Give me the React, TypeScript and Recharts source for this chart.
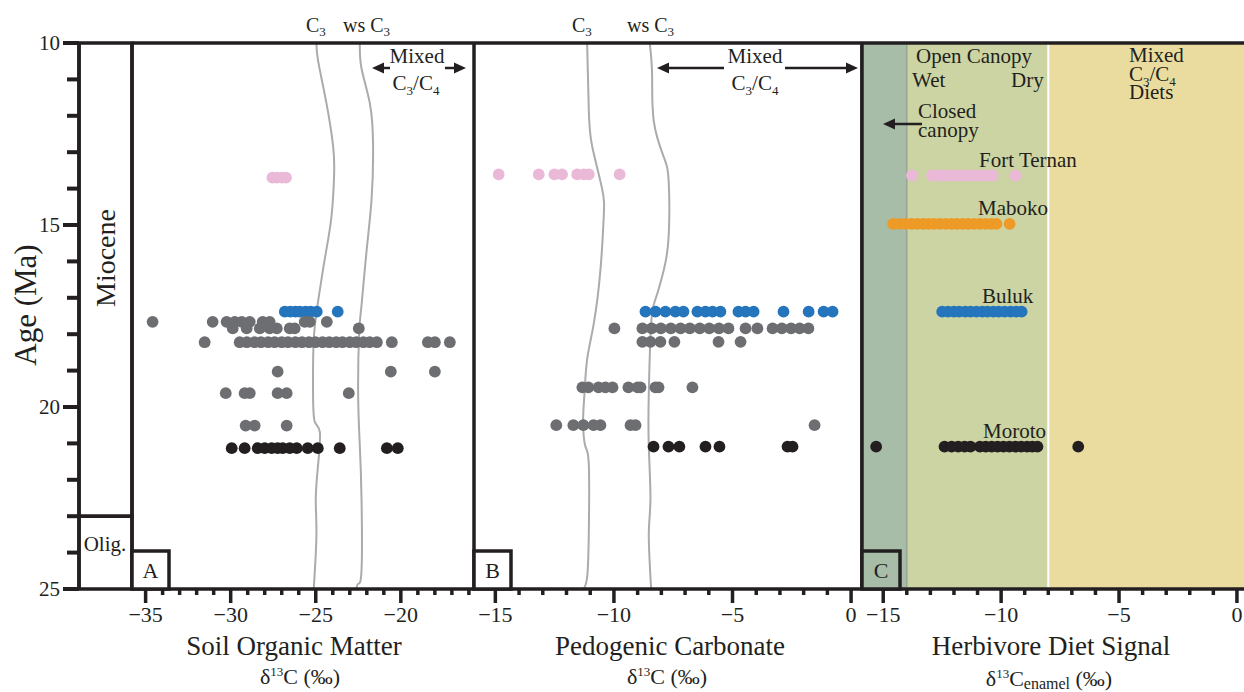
import React from 'react'
import {
  ComposedChart,
  Scatter,
  Line,
  XAxis,
  YAxis,
  ReferenceLine,
  ReferenceArea,
} from 'recharts'

const FONT = '"Liberation Serif", "Times New Roman", serif'
const INK = '#231f20'
const CURVE = '#a9abae'
const PINK = '#ebb9d8'
const BLUE = '#2475bc'
const GREY = '#6d6e71'
const BLACK = '#231f20'
const ORANGE = '#ee9a26'
const CLOSED = '#a8bda8'
const OPEN = '#cbd4a2'
const MIXED = '#eadc9f'

const TOP = 43
const CHART_H = 692
const AXIS_H = 103
const PAD = 12
const EDGE = 3.5

// age axis (Ma)
const ageTicks = [10, 11, 12, 13, 14, 15, 16, 17, 18, 19, 20, 21, 22, 23, 24, 25]
const epochAges = [10, 23, 25] // Miocene / Oligocene boundary

// x ticks
const somTicks = [-35, -34, -33, -32, -31, -30, -29, -28, -27, -26, -25, -24, -23, -22, -21, -20, -19, -18, -17, -16]
const pcTicks = [-15, -14, -13, -12, -11, -10, -9, -8, -7, -6, -5, -4, -3, -2, -1, 0]
const enTicks = [-15, -14, -13, -12, -11, -10, -9, -8, -7, -6, -5, -4, -3, -2, -1, 0]

// A: soil organic matter d13C
const somPink = [-27.55, -27.3, -27.0, -26.75]
const somBlue = [-26.82, -26.5, -26.2, -25.94, -25.6, -25.3, -24.94, -23.71]
const somGrey1 = [-34.59, -31.06, -30.24, -29.76, -29.35, -28.88, -28.12, -27.71, -25.65, -25.35, -24.35]
const somGrey2 = [-29.88, -29.06, -28.29, -27.71, -27.29, -26.53, -26.24, -22.47]
const somGrey3 = [-31.53, -29.47, -29.05, -28.6, -28.22, -27.8, -27.42, -27.0, -26.63, -26.2, -25.81, -25.4, -25.02, -24.6, -24.21, -23.8, -23.43, -23.0, -22.62, -22.2, -21.83, -21.41, -20.53, -18.41, -18.0, -17.12]
const somGrey4 = [-27.24, -20.59, -18.0]
const somGrey5 = [-30.29, -29.18, -28.88, -27.24, -26.71, -23.06]
const somGrey6 = [-29.12, -28.59, -26.71]
const somBlack = [-29.94, -29.18, -28.41, -28.0, -27.59, -27.24, -26.94, -26.53, -26.12, -25.47, -24.88, -23.59, -20.82, -20.18]
const somRowAges = [13.7, 17.38, 17.66, 17.84, 18.22, 19.03, 19.62, 20.51, 21.13]

const somC3X = [-24.96, -24.86, -24.37, -23.98, -23.92, -24.08, -24.47, -24.86, -25.12, -25.16, -25.06, -24.76, -24.86, -25.0, -24.96, -25.12]
const somC3Age = [10, 10.5, 11.66, 12.83, 13.6, 14.78, 15.93, 17.09, 18.16, 19.62, 20.4, 20.69, 21.57, 22.53, 23.5, 25]
const somWsX = [-22.41, -22.31, -21.82, -21.63, -21.72, -22.02, -22.31, -22.45, -22.51, -22.41, -22.31, -22.31, -22.51, -22.61]
const somWsAge = [10, 10.7, 11.66, 12.83, 14.29, 15.74, 17.2, 17.97, 19.62, 21.07, 22.53, 24.48, 24.86, 25]

// B: pedogenic carbonate d13C
const pcPink = [-14.86, -13.17, -12.51, -12.19, -11.55, -11.27, -11.06, -9.76]
const pcBlue = [-8.67, -8.25, -7.83, -7.41, -7.07, -6.48, -6.14, -5.84, -5.51, -4.75, -4.45, -4.11, -2.85, -1.79, -1.16, -0.78]
const pcGrey1 = [-9.98, -8.8, -8.41, -8.02, -7.6, -7.19, -6.8, -6.38, -5.98, -5.57, -5.17, -4.45, -3.95, -3.31, -2.92, -2.53, -2.17, -1.8]
const pcGrey2 = [-8.8, -8.46, -8.04, -7.45, -5.59, -4.66]
const pcGrey3 = [-11.33, -11.08, -10.65, -10.36, -10.06, -9.39, -9.0, -8.88, -8.25, -8.12, -6.69]
const pcGrey4 = [-12.43, -11.71, -11.29, -10.86, -10.57, -9.3, -9.09, -1.54]
const pcBlack = [-8.33, -7.7, -7.24, -6.14, -5.55, -2.68, -2.47]
const pcRowAges = [13.61, 17.38, 17.84, 18.21, 19.46, 20.5, 21.09]

const pcC3X = [-11.13, -11.06, -10.92, -10.5, -10.43, -10.57, -10.85, -11.13, -11.24, -11.3, -11.2, -11.06, -11.06, -11.13, -11.27]
const pcC3Age = [10, 11.84, 12.83, 14.0, 14.78, 16.24, 17.71, 18.69, 19.62, 20.41, 21.09, 21.57, 23.5, 24.68, 25]
const pcWsX = [-8.49, -8.39, -8.32, -7.9, -7.69, -7.69, -7.9, -8.25, -8.43, -8.53, -8.53, -8.46, -8.53, -8.43]
const pcWsAge = [10, 10.88, 12.15, 13.13, 13.82, 15.29, 16.24, 17.04, 17.71, 19.62, 21.09, 22.53, 23.5, 25]

// C: herbivore enamel d13C
const enPink = [-13.78, -12.93, -12.7, -12.45, -12.24, -12.0, -11.78, -11.55, -11.3, -11.1, -10.86, -10.62, -10.36, -9.39]
const enOrange = [-14.58, -14.3, -14.05, -13.8, -13.55, -13.3, -13.08, -12.85, -12.6, -12.35, -12.1, -11.88, -11.62, -11.4, -11.15, -10.9, -10.66, -10.42, -10.2, -9.64]
const enBlue = [-12.5, -12.25, -12.0, -11.78, -11.52, -11.3, -11.05, -10.8, -10.58, -10.33, -10.1, -9.85, -9.6, -9.36, -9.13]
const enBlack = [-15.3, -12.4, -12.1, -11.82, -11.55, -11.3, -10.9, -10.65, -10.4, -10.15, -9.9, -9.65, -9.4, -9.15, -8.9, -8.68, -8.46, -6.73]
const enRowAges = [13.64, 14.97, 17.38, 21.09]
const dietBounds = [-14, -8] // closed | open canopy | mixed C3/C4

const somDomain = [-35.8, -15.7]
const pcDomain = [-15.9, 0.46]
const enDomain = [-15.9, 0.3]

const row = (age: number, xs: number[]) => xs.map((x) => ({ x, y: age }))
const curve = (xs: number[], ages: number[]) => xs.map((x, i) => ({ x, y: ages[i] }))

const dot = (fill: string, r = 5.9) => (p: any) => <circle cx={p.cx} cy={p.cy} r={r} fill={fill} />

const minus = (v: number) => (v < 0 ? '\u2212' + Math.abs(v) : String(v))

const xTick = (props: any) => {
  const { x, y, payload } = props
  const major = payload.value % 5 === 0
  return (
    <g>
      <line x1={x} x2={x} y1={y} y2={y + (major ? 14 : 6)} stroke={INK} strokeWidth={3.5} />
      {major && (
        <text x={x} y={y + 33} textAnchor="middle" fontSize={22} fontFamily={FONT} fill={INK}>
          {minus(payload.value)}
        </text>
      )}
    </g>
  )
}

const yTick = (props: any) => {
  const { x, y, payload } = props
  const major = payload.value % 5 === 0
  return (
    <g>
      <line x1={x - (major ? 16 : 12)} x2={x} y1={y} y2={y} stroke={INK} strokeWidth={4} />
      {major && (
        <text x={x - 19} y={y + 7} textAnchor="end" fontSize={21} fontFamily={FONT} fill={INK}>
          {payload.value}
        </text>
      )}
    </g>
  )
}

function Panel({ left, width, domain, ticks, children }: any) {
  return (
    <div style={{ position: 'absolute', left: left - PAD, top: 0 }}>
      <ComposedChart
        width={width + 2 * PAD}
        height={CHART_H}
        margin={{ top: TOP, right: PAD, bottom: 0, left: PAD }}
      >
        <XAxis
          type="number"
          dataKey="x"
          domain={domain}
          ticks={ticks}
          interval={0}
          allowDataOverflow
          height={AXIS_H}
          tickSize={0}
          tickMargin={0}
          tickLine={false}
          tick={xTick}
          axisLine={{ stroke: INK, strokeWidth: EDGE }}
        />
        <YAxis type="number" dataKey="y" domain={[10, 25]} reversed hide allowDataOverflow />
        {children}
        <ReferenceLine y={10} stroke={INK} strokeWidth={EDGE} />
      </ComposedChart>
    </div>
  )
}

const sc = (key: string, data: any[], fill: string) => (
  <Scatter key={key} data={data} fill={fill} shape={dot(fill)} isAnimationActive={false} />
)

const ln = (key: string, data: any[]) => (
  <Line
    key={key}
    data={data}
    dataKey="y"
    type="natural"
    stroke={CURVE}
    strokeWidth={2}
    dot={false}
    activeDot={false}
    isAnimationActive={false}
  />
)

const T = (p: any) => <text fontFamily={FONT} fill={INK} {...p} />

function Arrow({ x1, x2, y }: { x1: number; x2: number; y: number }) {
  const d = x2 > x1 ? 1 : -1
  return (
    <g>
      <line x1={x1} x2={x2 - d * 8} y1={y} y2={y} stroke={INK} strokeWidth={2.5} />
      <polygon points={`${x2},${y} ${x2 - d * 12},${y - 5.5} ${x2 - d * 12},${y + 5.5}`} fill={INK} />
    </g>
  )
}

function C34({ x, y, anchor = 'middle' }: any) {
  return (
    <T x={x} y={y} fontSize={21} textAnchor={anchor}>
      C<tspan dy={5} fontSize={13}>3</tspan>
      <tspan dy={-5}>/C</tspan>
      <tspan dy={5} fontSize={13}>4</tspan>
    </T>
  )
}

function Delta({ x, y, enamel = false }: any) {
  return (
    <T x={x} y={y} fontSize={22} textAnchor="middle">
      δ<tspan dy={-8} fontSize={13}>13</tspan>
      <tspan dy={8}>C</tspan>
      {enamel && (
        <tspan dy={3} fontSize={16}>
          enamel
        </tspan>
      )}
      <tspan dy={enamel ? -3 : 0}> (‰)</tspan>
    </T>
  )
}

function Overlay() {
  return (
    <svg width={1244} height={692} style={{ position: 'absolute', left: 0, top: 0, pointerEvents: 'none' }}>
      <T x={36} y={305} fontSize={31} textAnchor="middle" transform="rotate(-90 36 305)">
        Age (Ma)
      </T>
      <T x={115} y={258} fontSize={28} textAnchor="middle" transform="rotate(-90 115 258)">
        Miocene
      </T>
      <T x={105} y={551} fontSize={21} textAnchor="middle">
        Olig.
      </T>

      {/* panel tags */}
      <rect x={132} y={551} width={37} height={38} fill="#fff" stroke={INK} strokeWidth={3.5} />
      <T x={150.5} y={578} fontSize={22} textAnchor="middle">A</T>
      <rect x={474} y={551} width={37} height={38} fill="#fff" stroke={INK} strokeWidth={3.5} />
      <T x={492.5} y={578} fontSize={22} textAnchor="middle">B</T>
      <rect x={862} y={551} width={38} height={38} fill={CLOSED} stroke={INK} strokeWidth={3.5} />
      <T x={881} y={578} fontSize={22} textAnchor="middle">C</T>

      {/* curve labels */}
      <T x={306} y={32} fontSize={20}>
        C<tspan dy={4} fontSize={13}>3</tspan>
      </T>
      <T x={343} y={32} fontSize={20}>
        ws C<tspan dy={4} fontSize={13}>3</tspan>
      </T>
      <T x={572} y={32} fontSize={20}>
        C<tspan dy={4} fontSize={13}>3</tspan>
      </T>
      <T x={627} y={32} fontSize={20}>
        ws C<tspan dy={4} fontSize={13}>3</tspan>
      </T>

      {/* mixed C3/C4 arrows */}
      <T x={417} y={63} fontSize={21} textAnchor="middle">Mixed</T>
      <C34 x={416} y={90} />
      <Arrow x1={390} x2={372} y={68} />
      <Arrow x1={445} x2={466} y={68} />
      <T x={755} y={63} fontSize={21} textAnchor="middle">Mixed</T>
      <C34 x={755} y={90} />
      <Arrow x1={724} x2={657} y={68} />
      <Arrow x1={785} x2={858} y={68} />

      {/* diet zones */}
      <T x={916} y={63} fontSize={21}>Open Canopy</T>
      <T x={912} y={87} fontSize={21}>Wet</T>
      <T x={1011} y={87} fontSize={21}>Dry</T>
      <T x={918} y={118} fontSize={21}>Closed</T>
      <T x={918} y={137} fontSize={21}>canopy</T>
      <Arrow x1={922} x2={883} y={124} />
      <T x={1129} y={62} fontSize={21}>Mixed</T>
      <C34 x={1129} y={81} anchor="start" />
      <T x={1129} y={99} fontSize={21}>Diets</T>

      {/* sites */}
      <T x={979} y={167} fontSize={21}>Fort Ternan</T>
      <T x={978} y={215} fontSize={21}>Maboko</T>
      <T x={982} y={303} fontSize={21}>Buluk</T>
      <T x={983} y={438} fontSize={21}>Moroto</T>

      {/* axis titles */}
      <T x={294} y={655} fontSize={27} textAnchor="middle">Soil Organic Matter</T>
      <Delta x={300} y={684} />
      <T x={670} y={655} fontSize={27} textAnchor="middle">Pedogenic Carbonate</T>
      <Delta x={667} y={684} />
      <T x={1051} y={655} fontSize={27} textAnchor="middle">Herbivore Diet Signal</T>
      <Delta x={1049} y={686} enamel />
    </svg>
  )
}

export default function App() {
  const somRows = [somPink, somBlue, somGrey1, somGrey2, somGrey3, somGrey4, somGrey5, somGrey6, somBlack]
  const somColors = [PINK, BLUE, GREY, GREY, GREY, GREY, GREY, GREY, BLACK]
  const pcRows = [pcPink, pcBlue, pcGrey1, pcGrey2, pcGrey3, pcGrey4, pcBlack]
  const pcColors = [PINK, BLUE, GREY, GREY, GREY, GREY, BLACK]
  const enRows = [enPink, enOrange, enBlue, enBlack]
  const enColors = [PINK, ORANGE, BLUE, BLACK]
  const epochData = epochAges.map((y) => ({ x: 0.5, y }))

  return (
    <div style={{ position: 'absolute', left: 0, top: 0, width: 1244, height: 692, background: '#fff', overflow: 'hidden' }}>
      {/* stratigraphic column + age axis */}
      <div style={{ position: 'absolute', left: 0, top: 0 }}>
        <ComposedChart
          width={132 + PAD}
          height={CHART_H}
          data={epochData}
          margin={{ top: TOP, right: PAD, bottom: AXIS_H, left: 0 }}
        >
          <XAxis type="number" dataKey="x" domain={[0, 1]} hide />
          <YAxis
            type="number"
            dataKey="y"
            domain={[10, 25]}
            reversed
            width={79}
            ticks={ageTicks}
            interval={0}
            tickSize={0}
            tickMargin={0}
            tickLine={false}
            tick={yTick}
            axisLine={{ stroke: INK, strokeWidth: EDGE }}
          />
          <Scatter data={epochData} shape={() => <g />} isAnimationActive={false} />
          <ReferenceArea x1={0} x2={1} y1={epochAges[0]} y2={epochAges[1]} fill="none" stroke={INK} strokeWidth={EDGE} />
          <ReferenceArea x1={0} x2={1} y1={epochAges[1]} y2={epochAges[2]} fill="none" stroke={INK} strokeWidth={EDGE} />
        </ComposedChart>
      </div>

      <Panel left={132} width={342} domain={somDomain} ticks={somTicks}>
        {ln('somC3', curve(somC3X, somC3Age))}
        {ln('somWs', curve(somWsX, somWsAge))}
        {somRows.map((xs, i) => sc('som' + i, row(somRowAges[i], xs), somColors[i]))}
        <ReferenceLine x={somDomain[0]} stroke={INK} strokeWidth={EDGE} />
        <ReferenceLine x={somDomain[1]} stroke={INK} strokeWidth={EDGE} />
      </Panel>

      <Panel left={474} width={388} domain={pcDomain} ticks={pcTicks}>
        {ln('pcC3', curve(pcC3X, pcC3Age))}
        {ln('pcWs', curve(pcWsX, pcWsAge))}
        {pcRows.map((xs, i) => sc('pc' + i, row(pcRowAges[i], xs), pcColors[i]))}
        <ReferenceLine x={pcDomain[1]} stroke={INK} strokeWidth={EDGE} />
      </Panel>

      <Panel left={862} width={382} domain={enDomain} ticks={enTicks}>
        <ReferenceArea x1={enDomain[0]} x2={dietBounds[0]} fill={CLOSED} fillOpacity={1} />
        <ReferenceArea x1={dietBounds[0]} x2={dietBounds[1]} fill={OPEN} fillOpacity={1} />
        <ReferenceArea x1={dietBounds[1]} x2={enDomain[1]} fill={MIXED} fillOpacity={1} />
        <ReferenceLine x={dietBounds[0]} stroke="#8e9c93" strokeWidth={1.2} />
        <ReferenceLine x={dietBounds[1]} stroke="#ffffff" strokeWidth={2} />
        {enRows.map((xs, i) => sc('en' + i, row(enRowAges[i], xs), enColors[i]))}
        <ReferenceLine x={enDomain[0]} stroke={INK} strokeWidth={EDGE} />
      </Panel>

      <Overlay />
    </div>
  )
}
